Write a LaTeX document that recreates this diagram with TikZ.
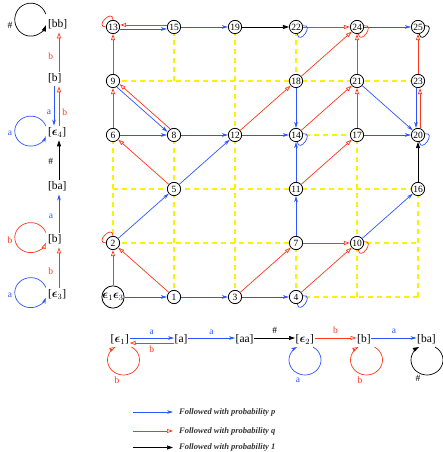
\documentclass[tikz,border=0pt]{standalone}
\usepackage{amsmath}
\usepackage{fontspec}
\setmainfont{Liberation Serif}
\usetikzlibrary{arrows.meta}
\definecolor{pblue}{RGB}{45,85,255}
\definecolor{qred}{RGB}{255,55,25}
\definecolor{gyel}{RGB}{250,242,0}
\newcommand{\beps}[1]{$\boldsymbol{\epsilon}_{#1}$}
\tikzset{
  gn/.style={circle, draw, line width=0.8pt, fill=white, inner sep=0.2pt, minimum size=13.3pt, font=\fontsize{9.5}{10}\selectfont},
  gridln/.style={gyel, line width=1.1pt, dash pattern=on 5pt off 4pt},
  pedge/.style={pblue, line width=0.7pt, -{Stealth[length=6pt,width=3.6pt,inset=1.8pt]}},
  qedge/.style={qred, line width=0.7pt, -{Triangle[open,length=6pt,width=4pt]}},
  oedge/.style={black, line width=0.7pt, -{Triangle[length=6pt,width=4pt]}},
  ploop/.style={pblue, line width=0.7pt},
  qloop/.style={qred, line width=0.7pt},
  oloop/.style={black, line width=0.7pt},
  smloop/.style={min distance=12pt},
  chn/.style={font=\fontsize{11.5}{13}\selectfont, text height=8.5pt, text depth=2.8pt, inner ysep=1.5pt, inner xsep=0.5pt},
  lchn/.style={chn, text width=22pt, align=left},
  bchn/.style={chn, anchor=west},
  elab/.style={font=\fontsize{9.5}{11}\selectfont, inner sep=1pt},
  legtxt/.style={font=\fontsize{8.5}{10}\selectfont\bfseries\itshape, text=black!80, anchor=west, inner sep=0pt},
}
\begin{document}
\begin{tikzpicture}[x=1pt,y=1pt]
\useasboundingbox (0,0) rectangle (443,452);

% ---------------- grid ----------------
\begin{scope}[shift={(113pt,155pt)}, x=61pt, y=54pt]
  % horizontal dashed lines
  \draw[gridln] (0,4) -- (5,4);
  \draw[gridln] (3,3) -- (4,3);
  \draw[gridln] (0,2) -- (5,2);
  \draw[gridln] (0,1) -- (3,1);
  \draw[gridln] (4,1) -- (5,1);
  \draw[gridln] (3,0) -- (5,0);
  % vertical dashed lines
  \draw[gridln] (0,1) -- (0,3);
  \draw[gridln] (1,0) -- (1,3);
  \draw[gridln] (1,4) -- (1,5);
  \draw[gridln] (2,0) -- (2,5);
  \draw[gridln] (3,0) -- (3,1);
  \draw[gridln] (3,4) -- (3,5);
  \draw[gridln] (4,0) -- (4,3);
  \draw[gridln] (5,0) -- (5,2);

  \node[gn] (n13) at (0,5) {13};
  \node[gn] (n15) at (1,5) {15};
  \node[gn] (n19) at (2,5) {19};
  \node[gn] (n22) at (3,5) {22};
  \node[gn] (n24) at (4,5) {24};
  \node[gn] (n25) at (5,5) {25};
  \node[gn] (n9)  at (0,4) {9};
  \node[gn] (n18) at (3,4) {18};
  \node[gn] (n21) at (4,4) {21};
  \node[gn] (n23) at (5,4) {23};
  \node[gn] (n6)  at (0,3) {6};
  \node[gn] (n8)  at (1,3) {8};
  \node[gn] (n12) at (2,3) {12};
  \node[gn] (n14) at (3,3) {14};
  \node[gn] (n17) at (4,3) {17};
  \node[gn] (n20) at (5,3) {20};
  \node[gn] (n5)  at (1,2) {5};
  \node[gn] (n11) at (3,2) {11};
  \node[gn] (n16) at (5,2) {16};
  \node[gn] (n2)  at (0,1) {2};
  \node[gn] (n7)  at (3,1) {7};
  \node[gn] (n10) at (4,1) {10};
  \node[gn, minimum size=20pt, inner sep=0pt, font=\fontsize{11.5}{12}\selectfont] (n0) at (0,0) {\beps{1}\beps{3}};
  \node[gn] (n1)  at (1,0) {1};
  \node[gn] (n3)  at (2,0) {3};
  \node[gn] (n4)  at (3,0) {4};
\end{scope}

% blue (p) edges
\draw[pedge] (n0) -- (n1);
\draw[pedge] (n1) -- (n3);
\draw[pedge] (n3) -- (n4);
\draw[pedge] (n2) -- (n5);
\draw[pedge] (n5) -- (n12);
\draw[pedge] (n6) -- (n8);
\draw[pedge] (n8) -- (n12);
\draw[pedge] (n12) -- (n14);
\draw[pedge, transform canvas={shift={(-1.33pt,-1.49pt)}}] (n9) -- (n8);
\draw[pedge, transform canvas={yshift=-2pt}] (n13) -- (n15);
\draw[pedge] (n15) -- (n19);
\draw[pedge] (n24) -- (n25);
\draw[pedge] (n18) -- (n14);
\draw[pedge] (n11) -- (n14);
\draw[pedge] (n7) -- (n11);
\draw[pedge] (n17) -- (n20);
\draw[pedge] (n21) -- (n20);
\draw[pedge, transform canvas={xshift=-2pt}] (n23) -- (n20);
\draw[pedge] (n10) -- (n16);

% red (q) edges
\draw[qedge] (n0) -- (n2);
\draw[qedge] (n1) -- (n2);
\draw[qedge] (n5) -- (n6);
\draw[qedge] (n6) -- (n9);
\draw[qedge] (n9) -- (n13);
\draw[qedge, transform canvas={shift={(1.33pt,1.49pt)}}] (n8) -- (n9);
\draw[qedge, transform canvas={yshift=2pt}] (n15) -- (n13);
\draw[qedge] (n12) -- (n18);
\draw[qedge] (n18) -- (n24);
\draw[qedge] (n14) -- (n21);
\draw[qedge] (n11) -- (n17);
\draw[qedge] (n17) -- (n21);
\draw[qedge] (n21) -- (n24);
\draw[qedge] (n22) -- (n24);
\draw[qedge, transform canvas={xshift=2pt}] (n20) -- (n23);
\draw[qedge] (n23) -- (n25);
\draw[qedge] (n3) -- (n7);
\draw[qedge] (n4) -- (n10);
\draw[qedge] (n7) -- (n10);

% black (1) edges
\draw[oedge] (n19) -- (n22);
\draw[oedge] (n16) -- (n20);

% small loops
\draw[qloop] (n13) to[out=90, in=180, smloop] (n13);
\draw[qloop] (n2) to[out=90, in=180, smloop] (n2);
\draw[ploop] (n22) to[out=10, in=-80, smloop] (n22);
\draw[qloop] (n24) to[out=10, in=-80, smloop] (n24);
\draw[oloop] (n25) to[out=10, in=-80, smloop] (n25);
\draw[ploop] (n14) to[out=10, in=-80, smloop] (n14);
\draw[ploop] (n20) to[out=10, in=-80, smloop] (n20);
\draw[qloop] (n10) to[out=10, in=-80, smloop] (n10);
\draw[ploop] (n4) to[out=10, in=-80, smloop] (n4);

% ---------------- left chain ----------------
\node[lchn] (Lbb) at (59,427) {[bb]};
\node[lchn] (Lb2) at (59,373) {[b]};
\node[lchn] (Le4) at (59,319) {[\beps{4}]};
\node[lchn] (Lba) at (59,265) {[ba]};
\node[lchn] (Lb1) at (59,212) {[b]};
\node[lchn] (Le3) at (59,157) {[\beps{3}]};

\draw[qedge] (Le3.north) -- node[elab, left=4.5pt, pos=0.4, text=qred] (lbl1) {b} (Lb1.south);
\draw[pedge] (Lb1.north) -- node[elab, left=4.5pt, pos=0.43, text=pblue] (lbl2) {a} (Lba.south);
\draw[oedge] (Lba.north) -- node[elab, left=4.5pt, pos=0.46] (lbl3) {\#} (Le4.south);
\draw[qedge] (Le4.north) -- node[elab, right=2pt, pos=0.35, text=qred] (lbl4) {b} (Lb2.south);
\draw[pedge, transform canvas={xshift=-5pt}] (Lb2.south) -- node[elab, left=1.5pt, pos=0.65, text=pblue] (lbl5) {a} (Le4.north);
\draw[qedge] (Lb2.north) -- node[elab, left=4.5pt, pos=0.4, text=qred] (lbl6) {b} (Lbb.south);

\draw[oedge] (Lbb.west) ++(-1.5pt,11pt) arc[start angle=20, end angle=340, x radius=16pt, y radius=16.5pt];
\draw[pedge] (Le4.west) ++(-1.5pt,7pt) arc[start angle=20, end angle=340, x radius=16pt, y radius=15pt];
\draw[qedge] (Lb1.west) ++(-1.5pt,7.5pt) arc[start angle=20, end angle=340, x radius=16pt, y radius=15pt];
\draw[pedge] (Le3.west) ++(-1.5pt,7.5pt) arc[start angle=20, end angle=340, x radius=16pt, y radius=15pt];
\node[elab] (llb1) at (10,427) {\#};
\node[elab, text=pblue] (llb2) at (10,319) {a};
\node[elab, text=qred] (llb3) at (10,212) {b};
\node[elab, text=pblue] (llb4) at (10,157) {a};

% ---------------- bottom chain ----------------
\node[bchn] (Be1) at (110,112) {[\beps{1}]};
\node[bchn] (Ba)  at (174,112) {[a]};
\node[bchn] (Baa) at (235,112) {[aa]};
\node[bchn] (Be2) at (295,112) {[\beps{2}]};
\node[bchn] (Bb)  at (356.5,112) {[b]};
\node[bchn] (Bba) at (416.5,112) {[ba]};

\draw[pedge] ([yshift=2pt]Be1.east) -- node[elab, above=2pt, text=pblue] (blb1) {a} ([yshift=2pt]Ba.west);
\draw[qedge] ([yshift=-3pt]Ba.west) -- node[elab, below=2pt, text=qred] (blb2) {b} ([yshift=-3pt]Be1.east);
\draw[pedge] ([yshift=2pt]Ba.east) -- node[elab, above=2pt, text=pblue] (blb3) {a} ([yshift=2pt]Baa.west);
\draw[oedge] ([yshift=2pt]Baa.east) -- node[elab, above=3.5pt] (blb4) {\#} ([yshift=2pt]Be2.west);
\draw[qedge] ([yshift=2pt]Be2.east) -- node[elab, above=3.5pt, text=qred] (blb5) {b} ([yshift=2pt]Bb.west);
\draw[pedge] ([yshift=2pt]Bb.east) -- node[elab, above=3.5pt, text=pblue] (blb6) {a} ([yshift=2pt]Bba.west);

\draw[qedge] (Be1.west) ++(21.5pt,-7pt) arc[start angle=60, end angle=-240, x radius=16pt, y radius=15pt];
\draw[pedge] (Be2.west) ++(18pt,-7pt) arc[start angle=60, end angle=-240, x radius=16pt, y radius=15pt];
\draw[qedge] (Bb.west) ++(18pt,-7pt) arc[start angle=60, end angle=-240, x radius=16pt, y radius=15pt];
\draw[oedge] (Bba.west) ++(18.5pt,-7pt) arc[start angle=60, end angle=-240, x radius=16pt, y radius=15pt];
\node[elab, text=qred] (blb7) at (117,72) {b};
\node[elab, text=pblue] (blb8) at (298,72) {a};
\node[elab, text=qred] (blb9) at (360,72) {b};
\node[elab] (blb10) at (418,74) {\#};

% ---------------- legend ----------------
\coordinate (lgp0) at (133,40);  \coordinate (lgp1) at (173,40);
\coordinate (lgq0) at (133,21);  \coordinate (lgq1) at (173,21);
\coordinate (lgo0) at (133,4.5); \coordinate (lgo1) at (173,4.5);
\draw[pedge] (lgp0) -- (lgp1);
\draw[qedge] (lgq0) -- (lgq1);
\draw[oedge] (lgo0) -- (lgo1);
\node[legtxt] (lgpt) at (179,40) {Followed with probability p};
\node[legtxt] (lgqt) at (179,21) {Followed with probability q};
\node[legtxt] (lgot) at (179,4.5) {Followed with probability 1};
\end{tikzpicture}
\end{document}
